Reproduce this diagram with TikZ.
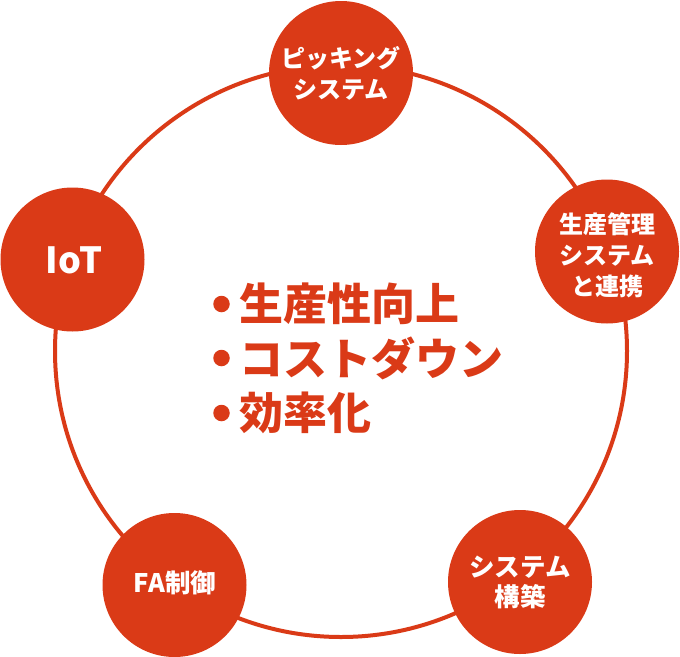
\documentclass[tikz,border=0pt]{standalone}
\usepackage{fontspec}
\newfontfamily\jp{Noto Sans CJK JP}
\definecolor{brand}{HTML}{DA3A17}
\tikzset{
  hub/.style={circle, fill=brand, draw=none, minimum size=144pt, inner sep=0pt},
  hubtext/.style={text=white, align=center, font=\jp\bfseries\fontsize{24}{31}\selectfont},
  ring/.style={draw=brand, line width=4pt},
  point/.style={anchor=west, text=brand, inner sep=0pt, font=\jp\bfseries\fontsize{44}{44}\selectfont},
  dot/.style={circle, fill=brand, draw=none, minimum size=16.5pt, inner sep=0pt}
}
\begin{document}
\begin{tikzpicture}[x=1pt,y=-1pt]
\useasboundingbox (0,0) rectangle (680,656);
\coordinate (c) at (341,351);
\draw[ring] (c) circle[radius=286];
\node[hub] (top) at (341,73) {};
\node[hub] (iot) at (72.5,259.5) {};
\node[hub] (prod) at (607,251.5) {};
\node[hub] (sys) at (520,582) {};
\node[hub] (fa) at (174.5,585) {};
\node[hubtext] (topt) at (341,73) {ピッキング\\システム};
\node[hubtext, font=\jp\bfseries\fontsize{36}{36}\selectfont] (iott) at (74,260) {IoT};
\node[hubtext] (prodt) at (607,255) {生産管理\\システム\\と連携};
\node[hubtext, font=\jp\bfseries\fontsize{25.5}{30}\selectfont] (syst) at (520,582) {システム\\構築};
\node[hubtext, font=\jp\bfseries\fontsize{25.5}{30}\selectfont] (fat) at (175,583) {FA制御};
\node[dot] (b1) at (221.5,304) {};
\node[dot] (b2) at (221.5,358) {};
\node[dot] (b3) at (221.5,413) {};
\node[point] (p1) at (239,304) {生産性向上};
\node[point] (p2) at (239,358) {コストダウン};
\node[point] (p3) at (239,413) {効率化};
\end{tikzpicture}
\end{document}
